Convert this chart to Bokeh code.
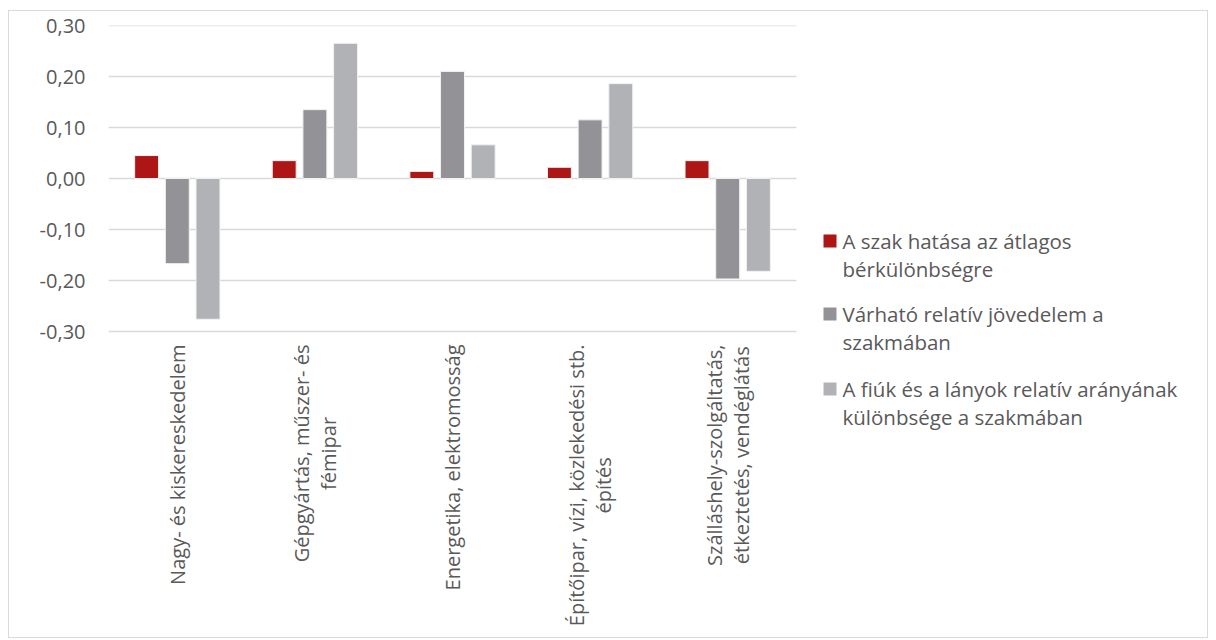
import math
from bokeh.plotting import figure
from bokeh.models import Range1d, FixedTicker, ColumnDataSource
from bokeh.core.properties import value
from bokeh.embed import file_html
from bokeh.resources import INLINE

categories = [
    "Nagy- és kiskereskedelem",
    "Gépgyártás, műszer- és\nfémipar",
    "Energetika, elektromosság",
    "Építőipar, vízi, közlekedési stb.\népítés",
    "Szálláshely-szolgáltatás,\nétkeztetés, vendéglátás",
]
series_names = [
    "A szak hatása az átlagos\nbérkülönbségre",
    "Várható relatív jövedelem a\nszakmában",
    "A fiúk és a lányok relatív arányának\nkülönbsége a szakmában",
]
szak_hatasa = [0.045, 0.035, 0.014, 0.022, 0.035]
varhato_jovedelem = [-0.167, 0.135, 0.210, 0.115, -0.197]
fiuk_lanyok = [-0.276, 0.265, 0.066, 0.186, -0.182]

y_ticks = [-0.3, -0.2, -0.1, 0.0, 0.1, 0.2, 0.3]
y_tick_labels = ["-0,30", "-0,20", "-0,10", "0,00", "0,10", "0,20", "0,30"]

colors = ["#AE1515", "#939397", "#B1B2B5"]
FONT = "Open Sans"
TXT = "#595959"

# ---- layout (pixels) ----
W, H = 1200, 628
LEFT, TOP = 99, 14
CAT_PX = 137.6                 # width of one category band
PX_PER_UNIT = 510.0            # 0.10 on the y axis -> 51 px
frame_w = W - LEFT
frame_h = H - TOP
y_max = y_ticks[-1]
y_min = y_max - frame_h / PX_PER_UNIT
x_max = frame_w / CAT_PX

def px_x(dx):   # pixel offset from the left of the plot area -> data x
    return dx / CAT_PX

def px_y(dy):   # pixel offset below the top gridline -> data y
    return y_max - dy / PX_PER_UNIT

n = len(categories)
centers = [i + 0.5 for i in range(n)]
offsets = [-0.223, 0.0, 0.223]
bar_w = 0.174

p = figure(width=W, height=H, output_backend="svg", toolbar_location=None,
           x_range=Range1d(0, x_max), y_range=Range1d(y_min, y_max),
           min_border_left=LEFT, min_border_right=0, min_border_top=TOP, min_border_bottom=0)
p.outline_line_color = None
p.background_fill_color = "white"
p.border_fill_color = "white"
p.styles = {"border": "1px solid #D9D9D9", "margin-left": "8px", "margin-top": "10px"}

# gridlines over the category area only
p.segment(x0=[0] * len(y_ticks), x1=[n] * len(y_ticks), y0=y_ticks, y1=y_ticks,
          line_color="#D9D9D9", line_width=1.5)

series = [szak_hatasa, varhato_jovedelem, fiuk_lanyok]
for i, vals in enumerate(series):
    src = ColumnDataSource(dict(x=[c + offsets[i] for c in centers], top=vals))
    p.vbar(x="x", top="top", bottom=0, width=bar_w, source=src,
           fill_color=colors[i], line_color="#F2F2F2", line_width=1)

# category labels (rotated, lines centred, block hanging from the axis)
lab_src = ColumnDataSource(dict(x=centers, y=[px_y(306 + 13)] * n, text=categories))
p.text(x="x", y="y", text="text", source=lab_src, angle=math.pi / 2,
       text_align="center", anchor="center_right", text_font=value(FONT),
       text_font_size="20px", text_color=TXT, text_line_height=1.0)

# legend
leg_x0 = n + px_x(27)                      # square left edge
leg_rows = [215.5, 288.5, 363.5]           # first-line centres (px below top gridline)
leg_src = ColumnDataSource(dict(
    x=[leg_x0 + px_x(6.5)] * 3,
    y=[px_y(r) for r in leg_rows],
    tx=[leg_x0 + px_x(19)] * 3,
    ty=[px_y(r - 14) for r in leg_rows],
    color=colors, text=series_names))
p.scatter(x="x", y="y", marker="square", size=13, fill_color="color", line_color=None,
          source=leg_src)
p.text(x="tx", y="ty", text="text", source=leg_src, text_align="left", anchor="top_left",
       text_font=value(FONT), text_font_size="20.5px", text_color=TXT, text_line_height=1.0)

p.xaxis.visible = False
p.xgrid.grid_line_color = None
p.ygrid.grid_line_color = None
p.yaxis.ticker = FixedTicker(ticks=y_ticks)
p.yaxis.major_label_overrides = dict(zip(y_ticks, y_tick_labels))
ax = p.yaxis[0]
ax.axis_line_color = None
ax.major_tick_line_color = None
ax.minor_tick_line_color = None
ax.major_tick_out = 0
ax.major_tick_in = 0
ax.major_label_text_font = FONT
ax.major_label_text_font_size = "20px"
ax.major_label_text_color = TXT
ax.major_label_standoff = 23

open("out.html", "w").write(file_html(p, INLINE))
